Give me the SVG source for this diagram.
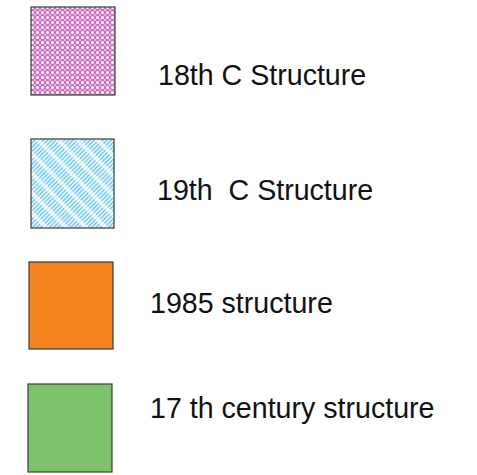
<svg xmlns="http://www.w3.org/2000/svg" width="477" height="475" viewBox="0 0 477 475">
<defs>
<pattern id="pinkHatch" width="5" height="5" patternUnits="userSpaceOnUse">
<rect width="5" height="5" fill="#d070c2"/>
<circle cx="2.5" cy="2.5" r="1.5" fill="#ffffff"/>
<circle cx="0" cy="0" r="0.9" fill="#f2d4ee"/>
<circle cx="5" cy="0" r="0.9" fill="#f2d4ee"/>
<circle cx="0" cy="5" r="0.9" fill="#f2d4ee"/>
<circle cx="5" cy="5" r="0.9" fill="#f2d4ee"/>
</pattern>
<pattern id="bluePlaid" width="14" height="3" patternUnits="userSpaceOnUse" patternTransform="rotate(-45)">
<rect width="14" height="3" fill="#ffffff"/>
<rect width="14" height="1.5" fill="#66c4ec"/>
<rect x="10" width="4" height="3" fill="#ffffff" opacity="0.7"/>
</pattern>
</defs>
<style>
.box{stroke:#3a3a3a;stroke-width:1.2}
.lbl{font-family:"Liberation Sans",Arial,sans-serif;font-size:28.6px;fill:#111}
</style>
<g id="legend-18th">
<rect class="box" x="31" y="7" width="84" height="88" fill="url(#pinkHatch)"/>
<text class="lbl" x="158" y="85">18th C Structure</text>
</g>
<g id="legend-19th">
<rect class="box" x="31" y="139" width="83" height="89" fill="url(#bluePlaid)"/>
<text class="lbl" x="157" y="200" xml:space="preserve">19th  C Structure</text>
</g>
<g id="legend-1985">
<rect class="box" x="29" y="262" width="84" height="87" fill="#f58220"/>
<text class="lbl" x="150" y="313">1985 structure</text>
</g>
<g id="legend-17th">
<rect class="box" x="28" y="384" width="84" height="88" fill="#7dc36d"/>
<text class="lbl" x="150" y="418">17 th century structure</text>
</g>
</svg>
